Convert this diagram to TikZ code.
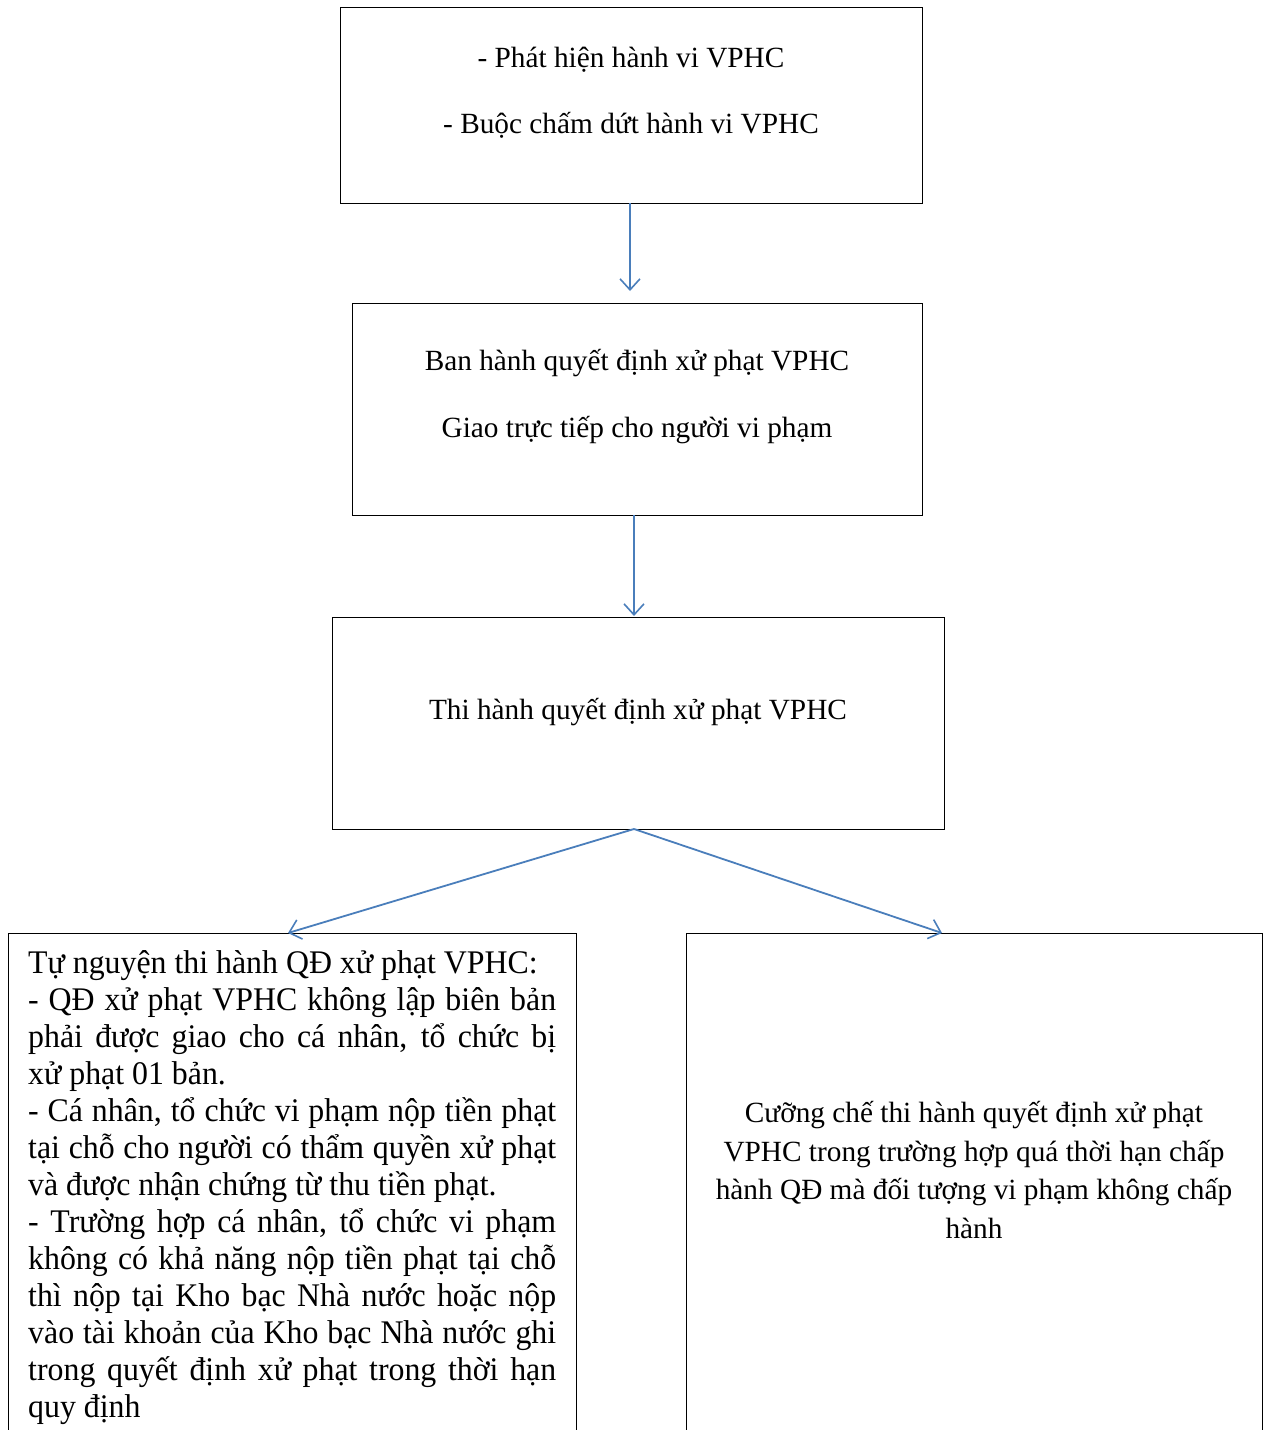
\documentclass[tikz,border=0pt]{standalone}
\usepackage{fontspec}
\setmainfont{Liberation Serif}
\newfontfamily\narrowserif[FakeStretch=0.965]{Liberation Serif}
\usetikzlibrary{arrows.meta}
\definecolor{arrowblue}{HTML}{4A7EBB}
\tikzset{
  box/.style={draw=black, line width=1pt, anchor=north west, inner sep=0pt},
  flow/.style={draw=arrowblue, line width=1.8pt, -{Straight Barb[length=11pt,width=20pt,line width=1.6pt]}},
  toptext/.style={font=\fontsize{29.3}{33}\selectfont, align=center},
}
\begin{document}
\begin{tikzpicture}[x=1pt,y=-1pt]
\useasboundingbox (0,0) rectangle (1266,1430);
\clip (0,0) rectangle (1266,1430);
\fill[white] (0,0) rectangle (1266,1430);
% boxes
\node[box, minimum width=582pt, minimum height=196pt] (b1) at (340,7) {};
\node[box, minimum width=570pt, minimum height=212pt] (b2) at (352,303) {};
\node[box, minimum width=612pt, minimum height=212pt] (b3) at (332,617) {};
\node[box, minimum width=568pt, minimum height=560pt] (b4) at (8,933) {};
\node[box, minimum width=576pt, minimum height=560pt] (b5) at (686,933) {};
% texts
\node[toptext, anchor=base] (t1a) at (631,67) {- Phát hiện hành vi VPHC};
\node[toptext, anchor=base] (t1b) at (631,133) {- Buộc chấm dứt hành vi VPHC};
\node[toptext, anchor=base] (t2a) at (637,370) {Ban hành quyết định xử phạt VPHC};
\node[toptext, anchor=base] (t2b) at (637,437) {Giao trực tiếp cho người vi phạm};
\node[toptext, anchor=base] (t3) at (638,719) {Thi hành quyết định xử phạt VPHC};
\node[anchor=north west, inner sep=0pt, text width=528pt, align=justify,
      font=\narrowserif\fontsize{33}{37}\selectfont] (t4) at (28,950) {%
Tự nguyện thi hành QĐ xử phạt VPHC:\par
- QĐ xử phạt VPHC không lập biên bản\linebreak
phải được giao cho cá nhân, tổ chức bị\linebreak
xử phạt 01 bản.\par
- Cá nhân, tổ chức vi phạm nộp tiền phạt\linebreak
tại chỗ cho người có thẩm quyền xử phạt\linebreak
và được nhận chứng từ thu tiền phạt.\par
- Trường hợp cá nhân, tổ chức vi phạm\linebreak
không có khả năng nộp tiền phạt tại chỗ\linebreak
thì nộp tại Kho bạc Nhà nước hoặc nộp\linebreak
vào tài khoản của Kho bạc Nhà nước ghi\linebreak
trong quyết định xử phạt trong thời hạn\linebreak
quy định};
\node[align=center, font=\fontsize{29.3}{38.5}\selectfont, inner sep=0pt] (t5) at (974,1170) {%
Cưỡng chế thi hành quyết định xử phạt\\
VPHC trong trường hợp quá thời hạn chấp\\
hành QĐ mà đối tượng vi phạm không chấp\\
hành};
% connectors
\coordinate (b1s) at (630,203);
\coordinate (b2n) at (630,291);
\coordinate (b2s) at (634,515);
\coordinate (b3n) at (634,616);
\coordinate (b3s) at (634,829);
\coordinate (b4n) at (288,933);
\coordinate (b5n) at (942,933);
\draw[flow] (b1s) -- (b2n);
\draw[flow] (b2s) -- (b3n);
\draw[flow] (b3s) -- (b4n);
\draw[flow] (b3s) -- (b5n);
\end{tikzpicture}
\end{document}
